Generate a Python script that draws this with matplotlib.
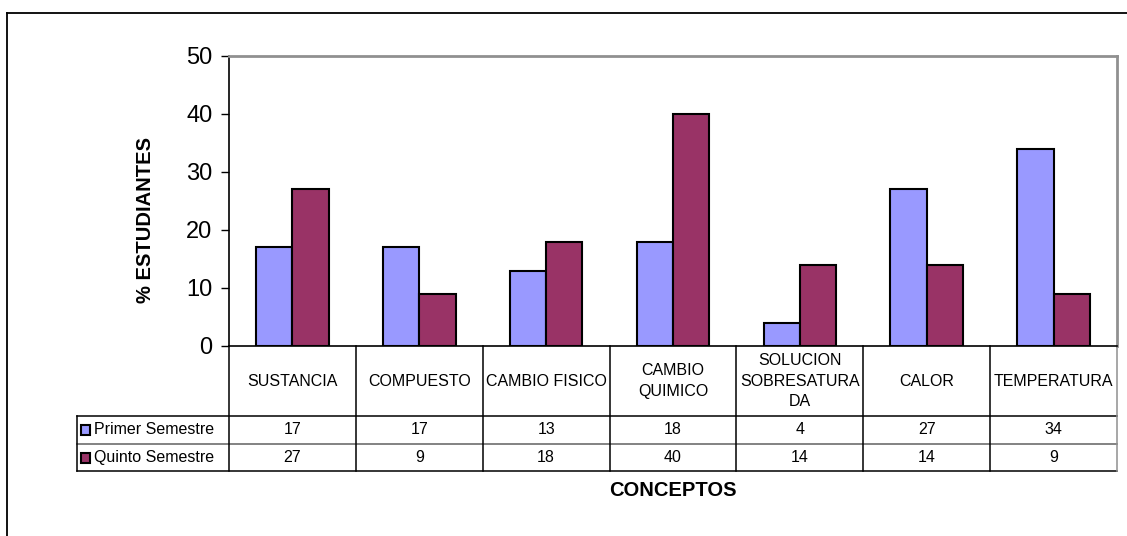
import matplotlib.pyplot as plt
from matplotlib.lines import Line2D
from matplotlib.patches import Rectangle
import matplotlib.transforms as mtransforms
import numpy as np

plt.rcParams['font.family'] = ['Liberation Sans', 'DejaVu Sans']

conceptos = ['SUSTANCIA', 'COMPUESTO', 'CAMBIO FISICO', 'CAMBIO\nQUIMICO',
             'SOLUCION\nSOBRESATURA\nDA', 'CALOR', 'TEMPERATURA']
primer = [17, 17, 13, 18, 4, 27, 34]
quinto = [27, 9, 18, 40, 14, 14, 9]
series = ['Primer Semestre', 'Quinto Semestre']
colores = ['#9999FF', '#993366']

fig = plt.figure(figsize=(11.27, 5.36), dpi=100)
ax = fig.add_axes([229 / 1127, 1 - 346 / 536, 888 / 1127, 290 / 536])

x = np.arange(len(conceptos))
w = 0.286
ax.bar(x - w / 2, primer, w, color=colores[0], edgecolor='black', linewidth=1.5)
ax.bar(x + w / 2, quinto, w, color=colores[1], edgecolor='black', linewidth=1.5)

ax.set_xlim(-0.5, len(conceptos) - 0.5)
ax.set_ylim(0, 50)
ax.set_yticks([0, 10, 20, 30, 40, 50])
ax.tick_params(axis='y', labelsize=17, length=6, width=1, direction='out', pad=6)
ax.set_xticks([])
ax.spines['top'].set_color('#909090')
ax.spines['right'].set_color('#909090')
ax.spines['top'].set_linewidth(2)
ax.spines['right'].set_linewidth(2)
ax.spines['left'].set_linewidth(1.2)
ax.spines['bottom'].set_linewidth(1.2)
ax.set_ylabel('% ESTUDIANTES', fontsize=14.5, fontweight='bold')
ax.yaxis.set_label_coords(-74 / 888, 126 / 290)

# data table under the bars: x in data units, y in axes fraction
tr = mtransforms.blended_transform_factory(ax.transData, ax.transAxes)
px = 1 / 290
y_lab = -70 * px
y_r1 = -98 * px
y_r2 = -125 * px
x_leg = -1.698
x_end = len(conceptos) - 0.5
fs = 11.5

def hline(x0, x1, y, c='black'):
    ax.add_line(Line2D([x0, x1], [y, y], transform=tr, color=c, lw=1.1, clip_on=False))

def vline(xv, y0, y1, c='black'):
    ax.add_line(Line2D([xv, xv], [y0, y1], transform=tr, color=c, lw=1.1, clip_on=False))

hline(x_leg, x_end, y_lab)
hline(x_leg, x_end, y_r1, '#606060')
hline(x_leg, x_end, y_r2)
vline(x_leg, y_lab, y_r2)
for b in np.arange(-0.5, len(conceptos), 1.0):
    vline(b, 0, y_r2, '#909090' if b == x_end else 'black')

for i, c in enumerate(conceptos):
    ax.text(i, y_lab / 2, c, transform=tr, ha='center', va='center',
            fontsize=fs, linespacing=1.45)
    ax.text(i, (y_lab + y_r1) / 2, str(primer[i]), transform=tr,
            ha='center', va='center', fontsize=fs)
    ax.text(i, (y_r1 + y_r2) / 2, str(quinto[i]), transform=tr,
            ha='center', va='center', fontsize=fs)

for j, (s, col) in enumerate(zip(series, colores)):
    yc = (y_lab + y_r1) / 2 if j == 0 else (y_r1 + y_r2) / 2
    ax.add_patch(Rectangle((x_leg + 0.03, yc - 5 * px), 0.075, 10 * px, transform=tr,
                           facecolor=col, edgecolor='black', lw=1.5, clip_on=False))
    ax.text(x_leg + 0.13, yc, s, transform=tr, ha='left', va='center', fontsize=fs)

ax.text(3, -145 * px, 'CONCEPTOS', transform=tr, ha='center', va='center',
        fontsize=14.5, fontweight='bold')

# chart frame
fig.add_artist(Line2D([7 / 1127, 7 / 1127], [0, 1 - 13 / 536], transform=fig.transFigure,
                      color='black', lw=1.3))
fig.add_artist(Line2D([7 / 1127, 1], [1 - 13 / 536, 1 - 13 / 536], transform=fig.transFigure,
                      color='black', lw=1.3))

fig.savefig('out.png', dpi=100)
